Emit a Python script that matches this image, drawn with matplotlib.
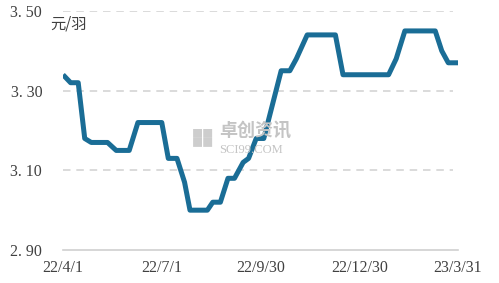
import matplotlib.pyplot as plt
import pandas as pd

plt.rcParams['font.family'] = ['Noto Sans CJK SC', 'DejaVu Sans']

dates = ["2022-04-01", "2022-04-08", "2022-04-15", "2022-04-21", "2022-04-27",
         "2022-05-12", "2022-05-20", "2022-06-01", "2022-06-09", "2022-07-01",
         "2022-07-07", "2022-07-15", "2022-07-22", "2022-07-27", "2022-08-12",
         "2022-08-17", "2022-08-24", "2022-08-31", "2022-09-06", "2022-09-14",
         "2022-09-19", "2022-09-26", "2022-10-03", "2022-10-19", "2022-10-27",
         "2022-11-02", "2022-11-12", "2022-12-08", "2022-12-15", "2023-01-26",
         "2023-02-02", "2023-02-10", "2023-03-10", "2023-03-16", "2023-03-22",
         "2023-03-31"]
prices = [3.34, 3.32, 3.32, 3.18, 3.17,
          3.17, 3.15, 3.15, 3.22, 3.22,
          3.13, 3.13, 3.07, 3.00, 3.00,
          3.02, 3.02, 3.08, 3.08, 3.12,
          3.13, 3.18, 3.18, 3.35, 3.35,
          3.38, 3.44, 3.44, 3.34, 3.34,
          3.38, 3.45, 3.45, 3.40, 3.37,
          3.37]

tick_dates = ["2022-04-01", "2022-07-01", "2022-09-30", "2022-12-30", "2023-03-31"]
tick_labels = ["22/4/1", "22/7/1", "22/9/30", "22/12/30", "23/3/31"]
y_ticks = [2.90, 3.10, 3.30, 3.50]
y_labels = ["2. 90", "3. 10", "3. 30", "3. 50"]

x = pd.to_datetime(dates)
xt = pd.to_datetime(tick_dates)

fig = plt.figure(figsize=(4.99, 2.83), dpi=100)
ax = fig.add_axes([0.1263, 0.1166, 0.7916, 0.8445])

for y in y_ticks[1:]:
    ax.axhline(y, xmax=0.986, color="#d4d4d4", lw=1.2, ls=(0, (4.5, 3.5)), zorder=1)

ax.plot(x, prices, color="#1a6d96", lw=3.6, solid_joinstyle="round",
        solid_capstyle="butt", zorder=3)

ax.set_xlim(xt[0], xt[-1])
ax.set_ylim(2.90, 3.50)
ax.set_yticks(y_ticks)
ax.set_yticklabels(y_labels, family="Liberation Serif")
ax.set_xticks(xt)
ax.set_xticklabels(tick_labels, family="Liberation Serif")
ax.tick_params(length=0, labelsize=11.5, colors="#404040")
ax.tick_params(axis="x", pad=7)
ax.tick_params(axis="y", pad=15)

for s in ["top", "right", "left"]:
    ax.spines[s].set_visible(False)
ax.spines["bottom"].set_color("#d0d0d0")
ax.spines["bottom"].set_linewidth(1.2)

fig.text(0.10, 0.915, "元/羽", fontsize=11, color="#404040", va="center", ha="left")

# watermark
fig.text(0.44, 0.54, "卓创资讯", fontsize=13, color="#c4c4c4", ha="left", va="center",
         fontweight="bold", zorder=0)
fig.text(0.44, 0.47, "SCI99.COM", fontsize=9, color="#c4c4c4", ha="left", va="center",
         family="Liberation Serif", zorder=0)
fig.text(0.385, 0.51, "■■\n■■", fontsize=8, color="#cdcdcd", ha="left", va="center",
         linespacing=0.85, zorder=0)

fig.savefig("out.png", dpi=100)
